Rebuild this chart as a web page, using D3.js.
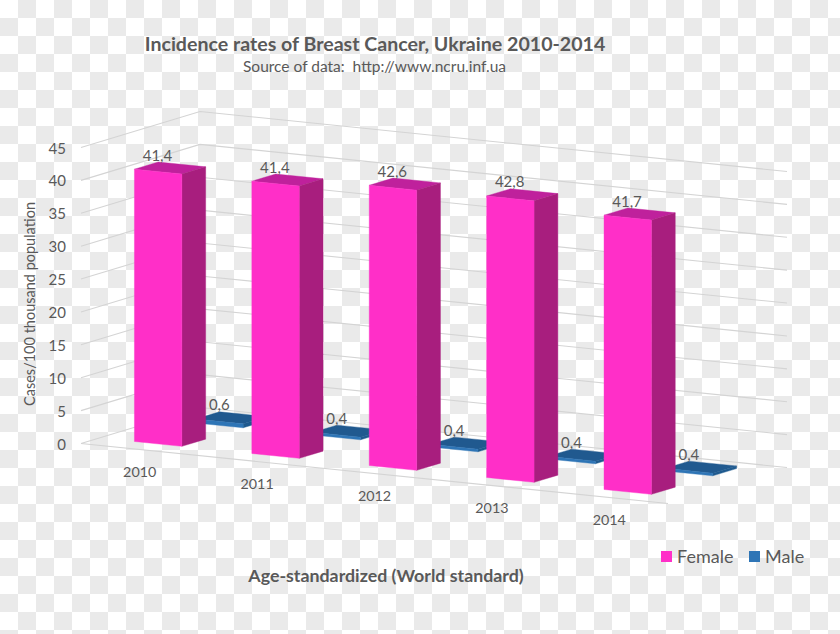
<!DOCTYPE html>
<html><head><meta charset="utf-8">
<script src="https://cdn.jsdelivr.net/npm/d3@7"></script>
<style>html,body{margin:0;padding:0;background:#fff}svg{display:block}text{font-family:Lato,"Open Sans",sans-serif;fill:#595959;white-space:pre}</style>
</head><body><div id="chart"></div>
<script>
const categories = ["2010","2011","2012","2013","2014"];
const femaleValues = [41.4,41.4,42.6,42.8,41.7];
const maleValues = [0.6,0.4,0.4,0.4,0.4];
const valueTicks = [0,5,10,15,20,25,30,35,40,45];
const seriesNames = ["Female","Male"];
const seriesColors = {Female:{front:"#ff2fc8",side:"#a81e7e",top:"#bf219c"},Male:{front:"#2e75b6",side:"#1f5a8f",top:"#20598f"}};
const titleText = "Incidence rates of Breast Cancer, Ukraine 2010-2014";
const subtitleText = "Source of data:  http://www.ncru.inf.ua";
const yTitleText = "Cases/100 thousand population";
const xTitleText = "Age-standardized (World standard)";

const W=840,H=634;
const svg=d3.select("#chart").append("svg").attr("width",W).attr("height",H);
const defs=svg.append("defs");
const pat=defs.append("pattern").attr("id","checker").attr("width",36).attr("height",36).attr("patternUnits","userSpaceOnUse");
pat.append("rect").attr("width",36).attr("height",36).attr("fill","#fff");
pat.append("rect").attr("x",18).attr("y",0).attr("width",18).attr("height",18).attr("fill","#eaeaea");
pat.append("rect").attr("x",0).attr("y",18).attr("width",18).attr("height",18).attr("fill","#eaeaea");
svg.append("rect").attr("width",W).attr("height",H).attr("fill","url(#checker)");

// Oblique 3D projection built from three linear scales
const uX=d3.scaleLinear().domain([0,5]).range([0,587]);
const uY=d3.scaleLinear().domain([0,5]).range([0,60]);
const dX=d3.scaleLinear().domain([0,1]).range([0,119]);
const dY=d3.scaleLinear().domain([0,1]).range([0,-36]);
const vY=d3.scaleLinear().domain([0,45]).range([0,-296]);
const px=(u,d)=>81+uX(u)+dX(d);
const py=(u,d,v)=>443.5+uY(u)+dY(d)+vY(v);
const pt=(u,d,v)=>[px(u,d),py(u,d,v)];
const line=d3.line();

const grid=svg.append("g").attr("fill","none").attr("stroke","#d4d4d4").attr("stroke-width",1.1);
valueTicks.forEach(v=>{
  grid.append("path").attr("d",line([pt(0,0,v),pt(0,1,v),pt(5,1,v)]));
});
grid.append("path").attr("d",line([pt(0,0,0),pt(5,0,0)]));

const barHalf=0.202;
function drawBar(g,i,v,d0,d1,c){
  const u0=i+0.5-barHalf,u1=i+0.5+barHalf;
  const poly=(pts,fill)=>g.append("path").attr("d",line(pts)+"Z").attr("fill",fill).attr("stroke",fill).attr("stroke-width",0.4);
  poly([pt(u0,d0,v),pt(u1,d0,v),pt(u1,d1,v),pt(u0,d1,v)],c.top);
  poly([pt(u1,d0,0),pt(u1,d1,0),pt(u1,d1,v),pt(u1,d0,v)],c.side);
  poly([pt(u0,d0,0),pt(u1,d0,0),pt(u1,d0,v),pt(u0,d0,v)],c.front);
}
const bars=svg.append("g");
maleValues.forEach((v,i)=>drawBar(bars,i,v,0.67,0.87,seriesColors.Male));
femaleValues.forEach((v,i)=>drawBar(bars,i,v,0.155,0.355,seriesColors.Female));

const fmt=v=>String(v).replace(".",",");
const labels=svg.append("g").attr("font-size",15).attr("text-anchor","middle");
femaleValues.forEach((v,i)=>labels.append("text").attr("x",px(i+0.5,0.25)-12).attr("y",py(i+0.5,0.25,v)-7.5).text(fmt(v)));
maleValues.forEach((v,i)=>labels.append("text").attr("x",px(i+0.5,0.77)-12).attr("y",py(i+0.5,0.77,v)-7.5).text(fmt(v)));

const axis=svg.append("g").attr("font-size",15).attr("text-anchor","end");
valueTicks.forEach(v=>axis.append("text").attr("x",66).attr("y",py(0,0,v)+6).text(v));
const xa=svg.append("g").attr("font-size",14.3).attr("text-anchor","middle");
categories.forEach((c,i)=>xa.append("text").attr("x",px(i+0.5,0)).attr("y",py(i+0.5,0,0)+27).text(c));

svg.append("text").attr("x",375).attr("y",51).attr("text-anchor","middle").attr("font-size",19.6).attr("font-weight",700).text(titleText);
svg.append("text").attr("x",374.5).attr("y",72).attr("text-anchor","middle").attr("font-size",15.5).text(subtitleText);
svg.append("text").attr("transform","translate(35,304) rotate(-90)").attr("text-anchor","middle").attr("font-size",14.5).text(yTitleText);
svg.append("text").attr("x",386).attr("y",581.5).attr("text-anchor","middle").attr("font-size",17.8).attr("font-weight",700).text(xTitleText);

const lg=svg.append("g").attr("font-size",18);
[[661,677],[749,765]].forEach((p,i)=>{
  lg.append("rect").attr("x",p[0]).attr("y",551).attr("width",11).attr("height",11).attr("fill",seriesColors[seriesNames[i]].front);
  lg.append("text").attr("x",p[1]).attr("y",563).text(seriesNames[i]);
});
</script></body></html>
